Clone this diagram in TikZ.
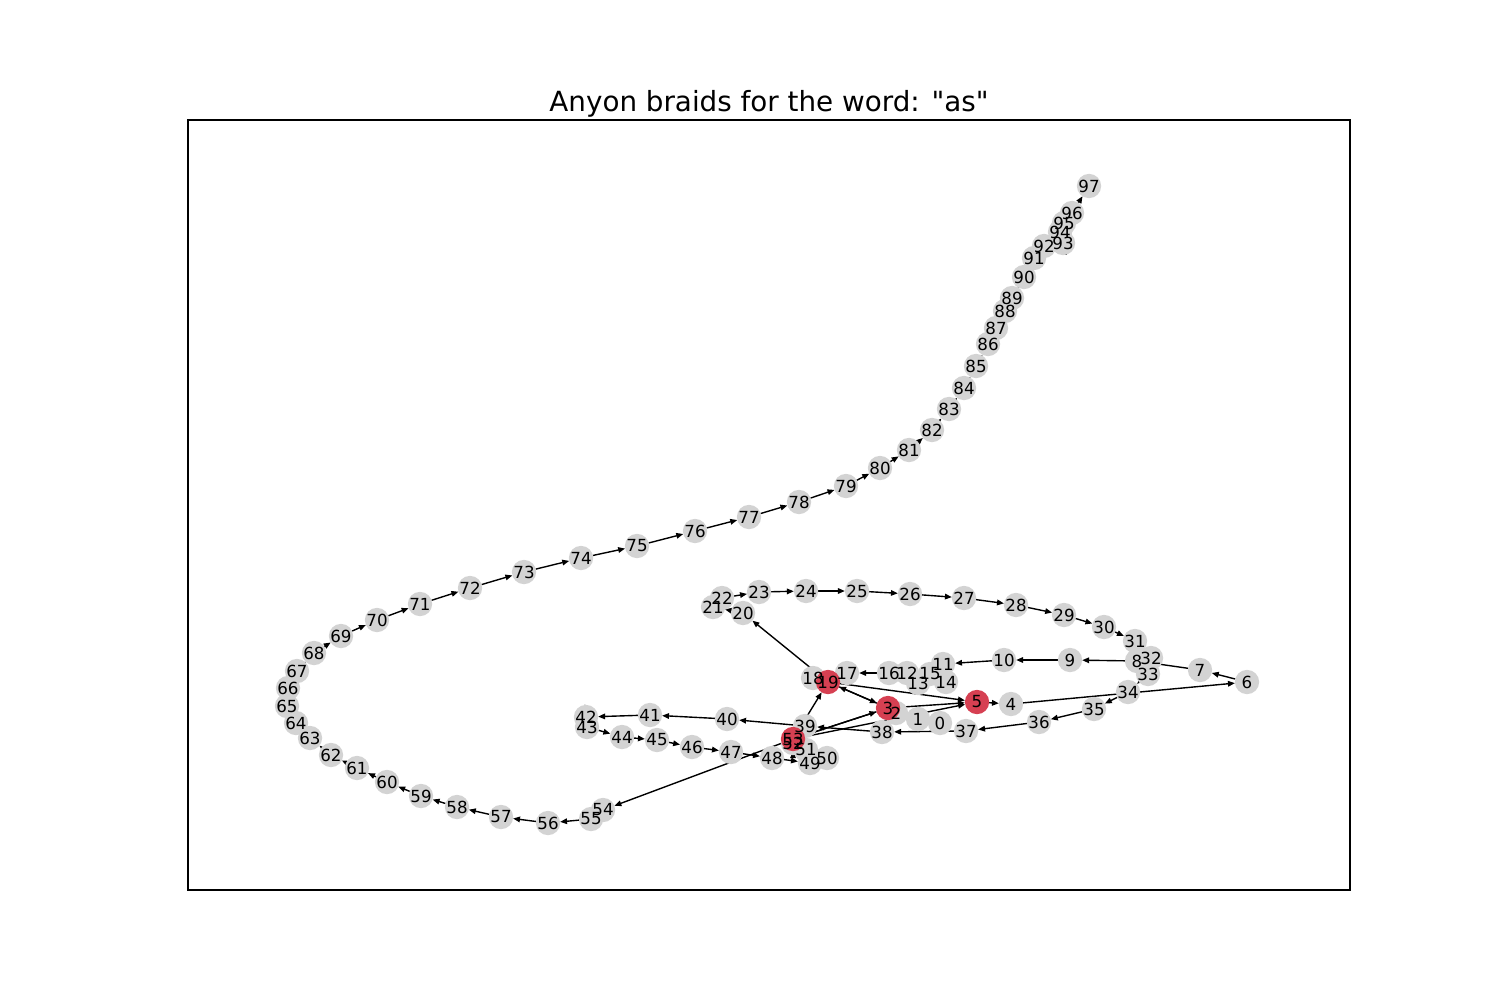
\documentclass[tikz,border=0pt]{standalone}
\usepackage{fontspec}
\setmainfont{DejaVu Sans}[Ligatures=TeXOff]
\usetikzlibrary{arrows.meta}
\pgfdeclarelayer{edgelayer}
\pgfdeclarelayer{labellayer}
\pgfsetlayers{edgelayer,main,labellayer}
\definecolor{nodegray}{RGB}{211,211,211}
\definecolor{nodered}{RGB}{214,64,82}
\tikzset{
  nd/.style={circle, fill=nodegray, minimum size=17.5pt, inner sep=0pt, outer sep=0pt},
  rd/.style={nd, fill=nodered},
  lbl/.style={font=\fontsize{12}{14}\selectfont, inner sep=0pt, text=black},
  conn/.style={line width=1pt, black, -{Triangle[length=5pt,width=4pt]}},
  frame/.style={line width=0.8pt, black},
  titletext/.style={font=\fontsize{20}{24}\selectfont, anchor=base, inner sep=0pt}
}
\begin{document}
\begin{tikzpicture}[x=0.72pt,y=-0.72pt]
\useasboundingbox (0,0) rectangle (1500,1000);
\draw[frame] (188,120) rectangle (1350,890);
\node[titletext] (title) at (769,111.7) {Anyon braids for the word: "as"};
% nodes (drawn in index order)
\node[nd] (n0) at (940,723) {};
\node[nd] (n1) at (918,719) {};
\node[nd] (n2) at (896,713) {};
\node[rd] (n3) at (888,708) {};
\node[nd] (n4) at (1011,704) {};
\node[rd] (n5) at (977,702) {};
\node[nd] (n6) at (1247,682) {};
\node[nd] (n7) at (1200,670) {};
\node[nd] (n8) at (1137,661) {};
\node[nd] (n9) at (1070,660) {};
\node[nd] (n10) at (1004,660) {};
\node[nd] (n11) at (943,664) {};
\node[nd] (n12) at (907,673) {};
\node[nd] (n13) at (918,683) {};
\node[nd] (n14) at (946,682) {};
\node[nd] (n15) at (930,674) {};
\node[nd] (n16) at (889,673) {};
\node[nd] (n17) at (847,673) {};
\node[nd] (n18) at (813,678) {};
\node[rd] (n19) at (828,682) {};
\node[nd] (n20) at (743,613) {};
\node[nd] (n21) at (713,607) {};
\node[nd] (n22) at (722,598) {};
\node[nd] (n23) at (759,592) {};
\node[nd] (n24) at (806,591) {};
\node[nd] (n25) at (857,591) {};
\node[nd] (n26) at (910,594) {};
\node[nd] (n27) at (964,598) {};
\node[nd] (n28) at (1016,605) {};
\node[nd] (n29) at (1064,615) {};
\node[nd] (n30) at (1104,627) {};
\node[nd] (n31) at (1135,641) {};
\node[nd] (n32) at (1151,658) {};
\node[nd] (n33) at (1148,674) {};
\node[nd] (n34) at (1128,692) {};
\node[nd] (n35) at (1094,709) {};
\node[nd] (n36) at (1039,722) {};
\node[nd] (n37) at (966,731) {};
\node[nd] (n38) at (882,732) {};
\node[nd] (n39) at (805,726) {};
\node[nd] (n40) at (727,719) {};
\node[nd] (n41) at (650,715) {};
\node[nd] (n42) at (586,717) {};
\node[nd] (n43) at (587,727) {};
\node[nd] (n44) at (622,737) {};
\node[nd] (n45) at (657,740) {};
\node[nd] (n46) at (692,747) {};
\node[nd] (n47) at (731,752) {};
\node[nd] (n48) at (772,758) {};
\node[nd] (n49) at (810,763) {};
\node[nd] (n50) at (827,758) {};
\node[nd] (n51) at (806,750) {};
\node[nd] (n52) at (793,743) {};
\node[rd] (n53) at (793,739) {};
\node[nd] (n54) at (603,810) {};
\node[nd] (n55) at (591,819) {};
\node[nd] (n56) at (548,823) {};
\node[nd] (n57) at (501,817) {};
\node[nd] (n58) at (457,807) {};
\node[nd] (n59) at (421,796) {};
\node[nd] (n60) at (387,782) {};
\node[nd] (n61) at (357,768) {};
\node[nd] (n62) at (331,755) {};
\node[nd] (n63) at (310,738) {};
\node[nd] (n64) at (296,723) {};
\node[nd] (n65) at (287,706) {};
\node[nd] (n66) at (288,688) {};
\node[nd] (n67) at (297,671) {};
\node[nd] (n68) at (314,653) {};
\node[nd] (n69) at (341,636) {};
\node[nd] (n70) at (377,620) {};
\node[nd] (n71) at (420,604) {};
\node[nd] (n72) at (470,588) {};
\node[nd] (n73) at (524,572) {};
\node[nd] (n74) at (581,558) {};
\node[nd] (n75) at (637,546) {};
\node[nd] (n76) at (695,531) {};
\node[nd] (n77) at (749,517) {};
\node[nd] (n78) at (799,502) {};
\node[nd] (n79) at (846,486) {};
\node[nd] (n80) at (880,468) {};
\node[nd] (n81) at (909,450) {};
\node[nd] (n82) at (932,430) {};
\node[nd] (n83) at (949,409) {};
\node[nd] (n84) at (964,388) {};
\node[nd] (n85) at (976,366) {};
\node[nd] (n86) at (988,344) {};
\node[nd] (n87) at (996,328) {};
\node[nd] (n88) at (1005,311) {};
\node[nd] (n89) at (1012,298) {};
\node[nd] (n90) at (1024,277) {};
\node[nd] (n91) at (1034,258) {};
\node[nd] (n92) at (1044,246) {};
\node[nd] (n93) at (1063,243) {};
\node[nd] (n94) at (1060,232) {};
\node[nd] (n95) at (1064,223) {};
\node[nd] (n96) at (1072,213) {};
\node[nd] (n97) at (1089,186) {};
% edges
\begin{pgfonlayer}{edgelayer}
\foreach \a/\b in {0/1,1/2,2/3,3/5,5/4,4/6,3/19,19/3,53/19,53/3,3/53,19/5,53/5}
  \draw[conn] (n\a) -- (n\b);
\foreach \a [evaluate=\a as \b using int(\a+1)] in {6,...,96}
  \draw[conn] (n\a) -- (n\b);
\end{pgfonlayer}
% labels
\begin{pgfonlayer}{labellayer}
\foreach \n in {0,...,97}
  \node[lbl] (t\n) at (n\n) {\n};
\end{pgfonlayer}
\end{tikzpicture}
\end{document}
